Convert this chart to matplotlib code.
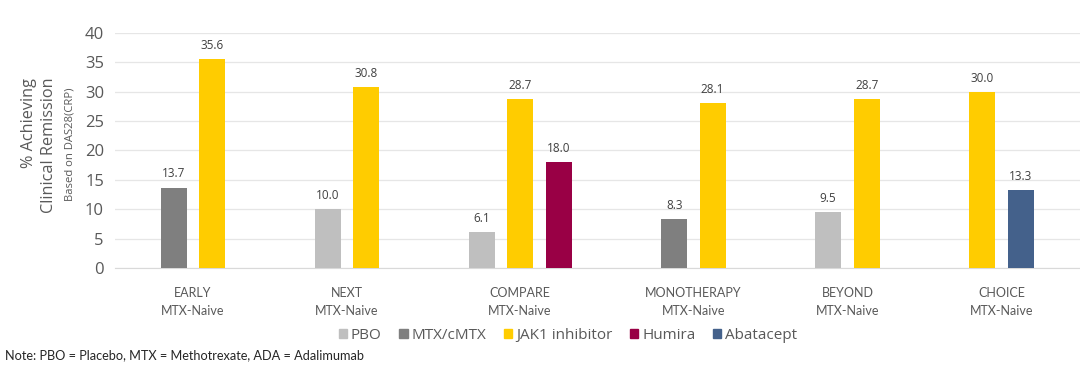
import numpy as np
import matplotlib.pyplot as plt
from matplotlib.patches import Patch

# data
categories = ["EARLY\nMTX-Naive", "NEXT\nMTX-Naive", "COMPARE\nMTX-Naive",
              "MONOTHERAPY\nMTX-Naive", "BEYOND\nMTX-Naive", "CHOICE\nMTX-Naive"]
series_names = ["PBO", "MTX/cMTX", "JAK1 inhibitor", "Humira", "Abatacept"]
pbo = [None, 10.0, 6.1, None, 9.5, None]
mtx = [13.7, None, None, 8.3, None, None]
jak1 = [35.6, 30.8, 28.7, 28.1, 28.7, 30.0]
humira = [None, None, 18.0, None, None, None]
abatacept = [None, None, None, None, None, 13.3]
colors = ["#BFBFBF", "#7F7F7F", "#FFCC00", "#990045", "#44618B"]

all_series = [pbo, mtx, jak1, humira, abatacept]

text_col = "#595959"
plt.rcParams['font.family'] = ['Open Sans', 'DejaVu Sans']

fig = plt.figure(figsize=(10.8, 3.69), dpi=100)
ax = fig.add_axes([0.1065, 0.2737, 0.8935, 0.6369])

# lay out bars: present series side by side, two empty slots between groups
slot = 0
group_centers = []
for ci in range(len(categories)):
    start = slot
    for si, s in enumerate(all_series):
        v = s[ci]
        if v is None:
            continue
        ax.bar(slot, v, width=0.675, color=colors[si], zorder=3)
        ax.text(slot, v + 1.2, f"{v:.1f}", ha='center', va='bottom',
                fontsize=8.5, color="#404040")
        slot += 1
    group_centers.append((start + slot - 1) / 2)
    slot += 2

ax.set_xlim(-1.52, 23.54)
ax.set_ylim(0, 40)
ax.set_yticks(np.arange(0, 41, 5))
ax.yaxis.grid(True, color="#E6E6E6", linewidth=0.9, zorder=0)
ax.tick_params(axis='y', length=0, labelsize=12, labelcolor=text_col, pad=8)
ax.set_xticks(group_centers)
ax.set_xticklabels(categories, fontsize=9, color=text_col, family=['Lato', 'DejaVu Sans'],
                   linespacing=1.6)
ax.tick_params(axis='x', length=0, pad=14)
for sp in ['top', 'right', 'left']:
    ax.spines[sp].set_visible(False)
ax.spines['bottom'].set_color("#D9D9D9")

# y axis label (two sizes)
fig.text(0.036, 0.606, "% Achieving\nClinical Remission", rotation=90, ha='center',
         va='center', fontsize=11.7, color=text_col, linespacing=1.3,
         multialignment='right')
fig.text(0.065, 0.61, "Based on DAS28(CRP)", rotation=90, ha='center', va='center',
         fontsize=8.1, color=text_col)

handles = [Patch(color=c, label=n) for c, n in zip(colors, series_names)]
fig.legend(handles=handles, loc='center', bbox_to_anchor=(0.526, 0.092), ncol=5,
           frameon=False, fontsize=11, handlelength=0.55, handleheight=0.55,
           handletextpad=0.25, columnspacing=1.15, labelcolor=text_col)

fig.text(0.005, 0.038, "Note: PBO = Placebo, MTX = Methotrexate, ADA = Adalimumab",
         fontsize=9.2, color="#262626", family=['Lato', 'DejaVu Sans'], va='center')

fig.savefig("out.png", dpi=100)
